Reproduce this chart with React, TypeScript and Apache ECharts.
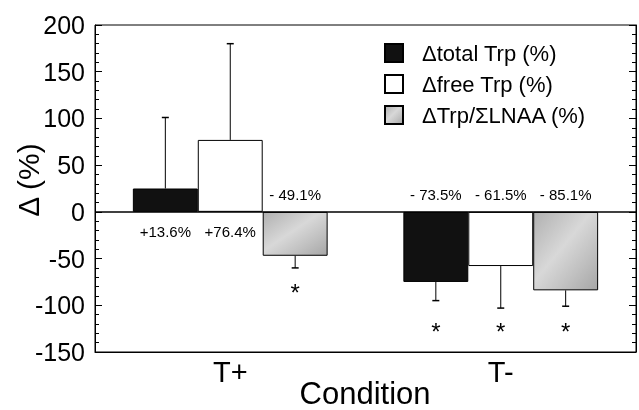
import React, { useEffect, useRef } from "react";
import * as echarts from "echarts";

const categories = ["T+", "T-"];
const seriesNames = ["\u0394total Trp (%)", "\u0394free Trp (%)", "\u0394Trp/\u03a3LNAA (%)"];
const totalTrp = [25, -75];
const freeTrp = [77, -58];
const trpRatio = [-47, -84];
const totalErr = [76, 20];
const freeErr = [103, 45];
const ratioErr = [13, 17];
const totalLabels = ["+13.6%", "- 73.5%"];
const freeLabels = ["+76.4%", "- 61.5%"];
const ratioLabels = ["- 49.1%", "- 85.1%"];
const totalStars = [null, -124];
const freeStars = [null, -124];
const ratioStars = [-82, -124];
const yMin = -150;
const yMax = 200;
const yInterval = 50;

const FONT = "Liberation Sans, Arial, Helvetica, sans-serif";
const CAT_GAP = 0.28;

function makeAnnot(pos: number, values: number[], errs: number[], labels: string[], stars: (number | null)[]) {
  return (params: any, api: any) => {
    const i = params.dataIndex;
    const v = values[i];
    const e = errs[i];
    const band = api.size([1, 0])[0];
    const bw = (band * (1 - CAT_GAP)) / 3;
    const base = api.coord([i, v]);
    const x = base[0] + (pos - 1) * bw;
    const endVal = v >= 0 ? v + e : v - e;
    const end = api.coord([i, endVal]);
    const zero = api.coord([i, 0]);
    const children: any[] = [
      { type: "line", shape: { x1: x, y1: base[1], x2: x, y2: end[1] }, style: { stroke: "#000", lineWidth: 1 } },
      { type: "line", shape: { x1: x - 3.5, y1: end[1], x2: x + 3.5, y2: end[1] }, style: { stroke: "#000", lineWidth: 1.5 } },
      {
        type: "text",
        x: x,
        y: v >= 0 ? zero[1] + 20 : zero[1] - 17,
        style: { text: labels[i], fontSize: 15, fontFamily: FONT, fill: "#000", align: "center", verticalAlign: "middle" },
      },
    ];
    const s = stars[i];
    if (s !== null && s !== undefined) {
      const sp = api.coord([i, s]);
      children.push({
        type: "text",
        x: x,
        y: sp[1] + 4,
        style: { text: "*", fontSize: 24, fontFamily: FONT, fill: "#000", align: "center", verticalAlign: "middle" },
      });
    }
    return { type: "group", children };
  };
}

const grayFill = new echarts.graphic.LinearGradient(0, 0, 1, 1, [
  { offset: 0, color: "#b0b0b0" },
  { offset: 0.45, color: "#d8d8d8" },
  { offset: 0.7, color: "#c2c2c2" },
  { offset: 1, color: "#a6a6a6" },
]);

export default function App() {
  const ref = useRef<HTMLDivElement>(null);
  useEffect(() => {
    if (!ref.current) return;
    const chart = echarts.init(ref.current, null, { renderer: "svg" });
    const annotData = categories.map((_, i) => [i, 0]);
    const yAxisCommon = {
      type: "value",
      min: yMin,
      max: yMax,
      interval: yInterval,
      splitLine: { show: false },
      axisLine: { show: true, lineStyle: { color: "#000", width: 1 } },
      axisTick: { show: true, inside: true, length: 7, lineStyle: { color: "#000" } },
      minorTick: { show: true, splitNumber: 5, length: 4, lineStyle: { color: "#000" } },
    };
    chart.setOption({
      animation: false,
      grid: { left: 95, right: 3, top: 25, bottom: 58, show: true, borderColor: "#000", borderWidth: 1 },
      legend: {
        data: seriesNames,
        orient: "vertical",
        left: 384,
        top: 42,
        itemWidth: 18,
        itemHeight: 18,
        itemGap: 9,
        padding: 0,
        icon: "rect",
        textStyle: { fontSize: 22, fontFamily: FONT, color: "#000", padding: [0, 0, 0, 14] },
      },
      xAxis: {
        type: "category",
        data: categories,
        axisLine: { show: true, onZero: false, lineStyle: { color: "#000" } },
        axisTick: { show: false },
        axisLabel: { fontSize: 29, fontFamily: FONT, color: "#000", margin: 5 },
      },
      yAxis: [
        {
          ...yAxisCommon,
          position: "left",
          axisLabel: { fontSize: 25, fontFamily: FONT, color: "#000", margin: 10 },
        },
        {
          ...yAxisCommon,
          position: "right",
          axisLabel: { show: false },
        },
      ],
      series: [
        {
          name: seriesNames[0],
          type: "bar",
          data: totalTrp,
          barGap: "0%",
          barCategoryGap: "28%",
          itemStyle: { color: "#111", borderColor: "#000", borderWidth: 1 },
          markLine: {
            silent: true,
            symbol: "none",
            label: { show: false },
            lineStyle: { color: "#000", width: 1.5, type: "solid" },
            data: [{ yAxis: 0 }],
          },
        },
        {
          name: seriesNames[1],
          type: "bar",
          data: freeTrp,
          barGap: "0%",
          barCategoryGap: "28%",
          itemStyle: { color: "#fff", borderColor: "#000", borderWidth: 1 },
        },
        {
          name: seriesNames[2],
          type: "bar",
          data: trpRatio,
          barGap: "0%",
          barCategoryGap: "28%",
          itemStyle: { color: grayFill, borderColor: "#000", borderWidth: 1 },
        },
        { type: "custom", renderItem: makeAnnot(0, totalTrp, totalErr, totalLabels, totalStars), data: annotData, encode: { x: 0, y: 1 }, clip: false, z: 5 },
        { type: "custom", renderItem: makeAnnot(1, freeTrp, freeErr, freeLabels, freeStars), data: annotData, encode: { x: 0, y: 1 }, clip: false, z: 5 },
        { type: "custom", renderItem: makeAnnot(2, trpRatio, ratioErr, ratioLabels, ratioStars), data: annotData, encode: { x: 0, y: 1 }, clip: false, z: 5 },
      ],
      graphic: [
        {
          type: "text",
          x: 28,
          y: 180,
          rotation: Math.PI / 2,
          style: { text: "\u0394 (%)", fontSize: 30, fontFamily: FONT, fill: "#000", align: "center", verticalAlign: "middle" },
        },
        {
          type: "text",
          x: 365,
          y: 393,
          style: { text: "Condition", fontSize: 31, fontFamily: FONT, fill: "#000", align: "center", verticalAlign: "middle" },
        },
      ],
    });
    return () => chart.dispose();
  }, []);
  return <div ref={ref} style={{ position: "fixed", left: 0, top: 0, width: 639, height: 410 }} />;
}
